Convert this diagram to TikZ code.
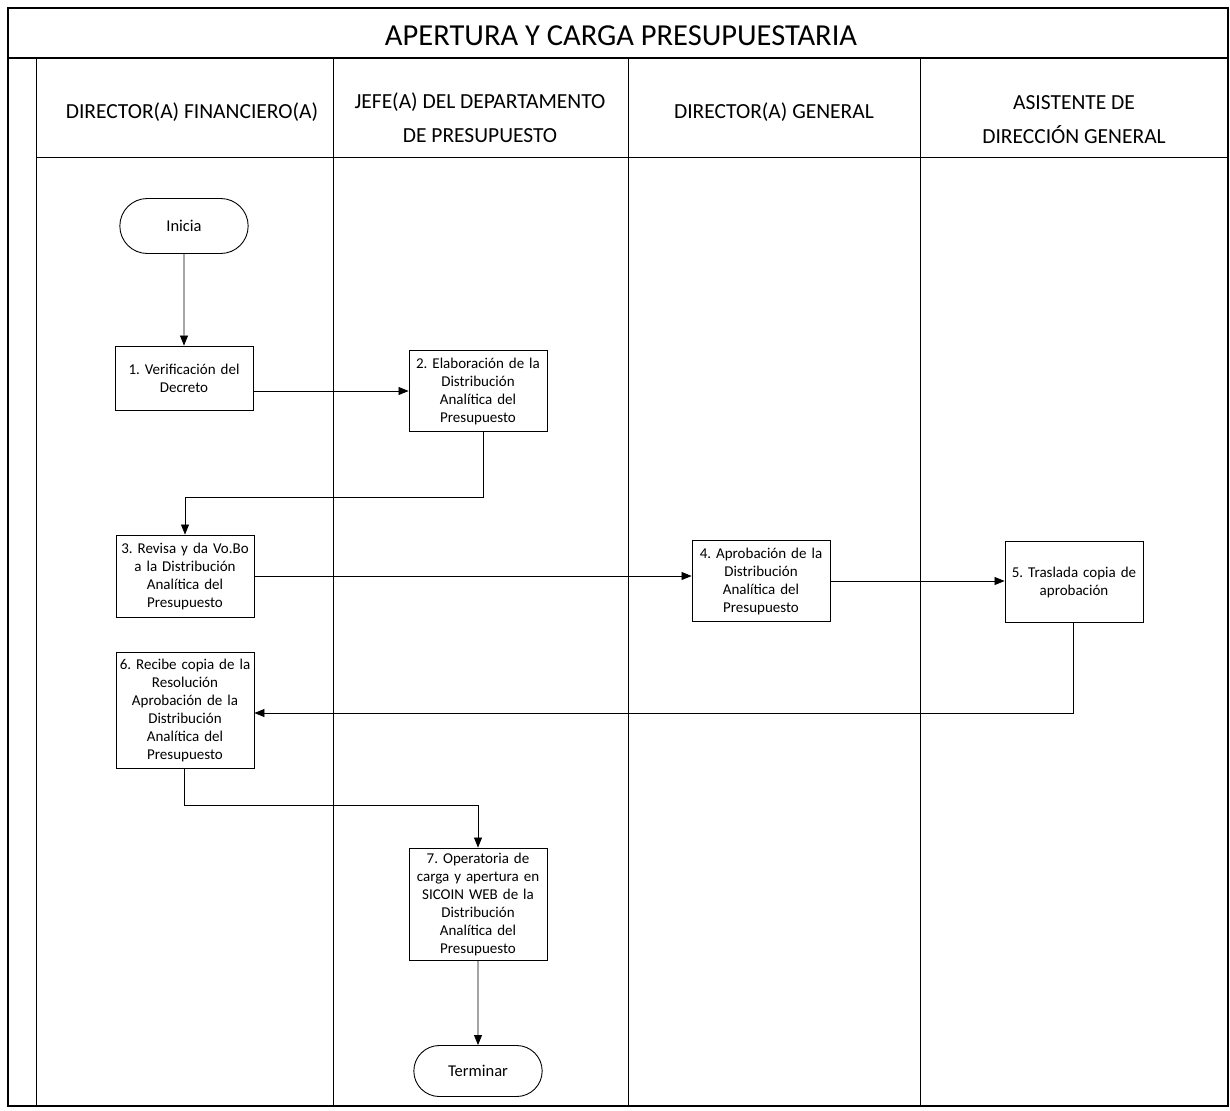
\documentclass[tikz,border=0pt]{standalone}
\usepackage{fontspec}
\setmainfont{Carlito}
\usepackage{tikz}
\usetikzlibrary{arrows.meta,positioning,shapes.misc}
\frenchspacing

\begin{document}
\begin{tikzpicture}[
  x=1pt, y=-1pt,
  frame/.style={line width=1.1pt},
  lane/.style={line width=0.9pt},
  header/.style={align=center, font=\fontsize{21.5}{34}\selectfont},
  box/.style={draw, line width=0.9pt, align=center, text width=134pt, inner sep=2pt,
    font=\fontsize{15}{18}\selectfont},
  term/.style={draw, line width=0.9pt, rounded rectangle, minimum width=135pt,
    minimum height=55pt, font=\fontsize{16.5}{18}\selectfont},
  arrow/.style={-{Triangle[length=10pt,width=8pt]}, line width=0.7pt}
]
\useasboundingbox (0,0) rectangle (1230,1110);

% frame and lanes
\draw[frame] (8,8) rectangle (1228,1106);
\draw[frame] (8,58) -- (1228,58);
\draw[lane] (36,58) -- (36,1106);
\draw[lane] (36,157) -- (1228,157);
\foreach \lx in {333,628,920} {
  \draw[lane] (\lx,58) -- (\lx,1106);
}

\node[font=\fontsize{30.5}{34}\selectfont] (title) at (621,36) {APERTURA Y CARGA PRESUPUESTARIA};
\node[header] (h1) at (192,112) {DIRECTOR(A) FINANCIERO(A)};
\node[header] (h2) at (480,118) {JEFE(A) DEL DEPARTAMENTO\\DE PRESUPUESTO};
\node[header] (h3) at (774,112) {DIRECTOR(A) GENERAL};
\node[header] (h4) at (1074,120) {ASISTENTE DE\\DIRECCIÓN GENERAL};

% steps
\node[term] (ini) at (184,226) {Inicia};
\node[box, minimum height=64pt] (b1) at (184,378) {1. Verificación del\\Decreto};
\node[box, minimum height=81pt] (b2) at (478,391) {2. Elaboración de la\\Distribución\\Analítica del\\Presupuesto};
\node[box, minimum height=82pt] (b3) at (185,576) {3. Revisa y da Vo.Bo\\a la Distribución\\Analítica del\\Presupuesto};
\node[box, minimum height=81pt] (b4) at (761,581) {4. Aprobación de la\\Distribución\\Analítica del\\Presupuesto};
\node[box, minimum height=81pt] (b5) at (1074,582) {5. Traslada copia de\\aprobación};
\node[box, minimum height=116pt] (b6) at (185,710) {6. Recibe copia de la\\Resolución\\Aprobación de la\\Distribución\\Analítica del\\Presupuesto};
\node[box, minimum height=112pt] (b7) at (478,904) {7. Operatoria de\\carga y apertura en\\SICOIN WEB de la\\Distribución\\Analítica del\\Presupuesto};
\node[term, minimum height=51pt] (fin) at (478,1071) {Terminar};

% flow
\coordinate (c2) at (483,497);
\coordinate (c5) at (1073,713);
\coordinate (c6) at (184,805);
\draw[arrow] (ini) -- (b1);
\draw[arrow] (b1.east |- b2.west) -- (b2.west);
\draw[arrow] (b2.south -| c2) -- (c2) -| (b3.north);
\draw[arrow] (b3.east) -- (b4.west |- b3.east);
\draw[arrow] (b4.east) -- (b5.west |- b4.east);
\draw[arrow] (b5.south -| c5) -- (c5) -- (b6.east |- c5);
\draw[arrow] (b6.south -| c6) -- (c6) -| (b7.north);
\draw[arrow] (b7) -- (fin);
\end{tikzpicture}
\end{document}
